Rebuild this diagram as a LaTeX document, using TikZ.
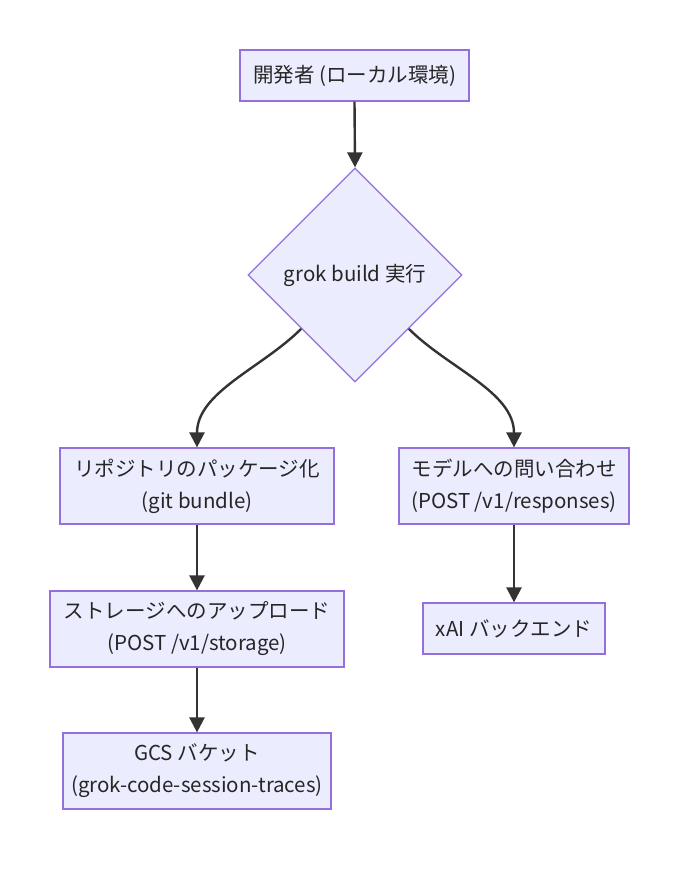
\documentclass[tikz,border=0pt]{standalone}
\usepackage{fontspec}
\setmainfont{Noto Sans CJK JP}
\usetikzlibrary{shapes.geometric,arrows.meta}
\definecolor{nodefill}{HTML}{ECECFF}
\definecolor{nodeline}{HTML}{9370DB}
\definecolor{edgecol}{HTML}{333333}
\definecolor{txt}{HTML}{262626}
\begin{document}
\begin{tikzpicture}[x=1pt,y=-1pt,
  every node/.style={font=\fontsize{20.5}{32}\selectfont, text=txt},
  box/.style={draw=nodeline, fill=nodefill, line width=1.2pt, align=center, inner sep=0pt},
  dia/.style={draw=nodeline, fill=nodefill, line width=1.2pt, diamond, aspect=1, inner sep=0pt, minimum width=214pt, minimum height=214pt},
  arr/.style={draw=edgecol, line width=2.4pt, -{Triangle[length=15pt,width=15pt]}}]
\useasboundingbox (0,0) rectangle (680,870);
\fill[white] (0,0) rectangle (680,870);
\node[box, minimum width=229pt, minimum height=51pt] (dev) at (354.5,75.5) {開発者 (ローカル環境)};
\node[dia] (d) at (355,275) {grok build 実行};
\node[box, minimum width=274pt, minimum height=76pt] (pack) at (197,486) {リポジトリのパッケージ化\\(git bundle)};
\node[box, minimum width=230pt, minimum height=76pt] (model) at (514,486) {モデルへの問い合わせ\\(POST /v1/responses)};
\node[box, minimum width=294pt, minimum height=76pt] (up) at (197,629) {ストレージへのアップロード\\(POST /v1/storage)};
\node[box, minimum width=182pt, minimum height=51pt] (xai) at (514,628.5) {xAI バックエンド};
\node[box, minimum width=268pt, minimum height=76pt] (gcs) at (197,771) {GCS バケット\\(grok-code-session-traces)};
\draw[arr] (dev.south) -- (d.north);
\draw[arr] (d.-135) to[out=-135,in=90,looseness=0.9] (pack.north);
\draw[arr] (d.-45) to[out=-45,in=90,looseness=0.9] (model.north);
\draw[arr] (pack.south) -- (up.north);
\draw[arr] (up.south) -- (gcs.north);
\draw[arr] (model.south) -- (xai.north);
\end{tikzpicture}
\end{document}
